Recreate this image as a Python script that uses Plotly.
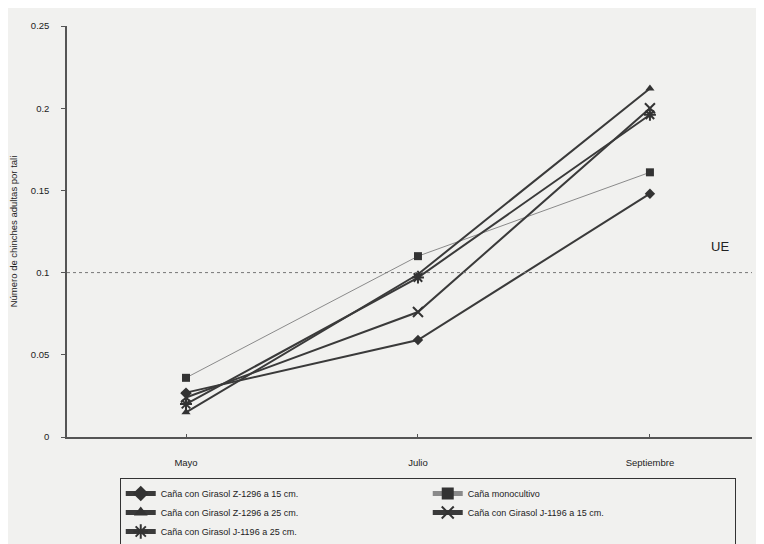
import plotly.graph_objects as go

months = ["Mayo", "Julio", "Septiembre"]
z1296_15 = [0.027, 0.059, 0.148]
monocultivo = [0.036, 0.110, 0.161]
z1296_25 = [0.015, 0.099, 0.212]
j1196_15 = [0.024, 0.076, 0.200]
j1196_25 = [0.020, 0.097, 0.196]
umbral_ue = 0.1

names = ["Caña con Girasol Z-1296 a 15 cm.", "Caña monocultivo",
         "Caña con Girasol Z-1296 a 25 cm.", "Caña con Girasol J-1196 a 15 cm.",
         "Caña con Girasol J-1196 a 25 cm."]
series = [z1296_15, monocultivo, z1296_25, j1196_15, j1196_25]
symbols = ["diamond", "square", "triangle-up", "x-thin", "asterisk"]
xpos = list(range(len(months)))

dark = "#3a3a3a"
fig = go.Figure()
for nm, vals, sym in zip(names, series, symbols):
    thin = nm == "Caña monocultivo"
    lw = 1 if thin else 2
    lc = "#8a8a8a" if thin else dark
    linesym = sym in ("x-thin", "asterisk")
    marker = dict(symbol=sym, size=10 if linesym else 8,
                  color="#333333", line=dict(color="#333333", width=2 if linesym else 0))
    fig.add_trace(go.Scatter(x=xpos, y=vals, mode="lines+markers", name=nm,
                             line=dict(color=lc, width=lw), marker=marker))

fig.add_shape(type="line", xref="paper", x0=0, x1=1, yref="y", y0=umbral_ue, y1=umbral_ue,
              line=dict(color="#777777", width=1, dash="dot"))
fig.add_annotation(x=2.3, y=umbral_ue, yshift=26, text="UE", showarrow=False,
                   font=dict(size=13, color="#222222", family="Liberation Sans, Arial"))

fig.update_layout(
    width=764, height=544,
    margin=dict(l=59, r=20, t=18, b=115, autoexpand=False),
    paper_bgcolor="#f1f1ef", plot_bgcolor="#f1f1ef",
    font=dict(family="Liberation Sans, Arial", size=9, color="#222222"),
    showlegend=True,
    legend=dict(orientation="h", x=0.077, y=0.136, xref="paper", yref="container",
                xanchor="left", yanchor="top",
                entrywidth=262, entrywidthmode="pixels",
                bordercolor="#333333", borderwidth=1, bgcolor="rgba(0,0,0,0)",
                font=dict(size=9), tracegroupgap=0, itemsizing="constant"),
)
fig.update_xaxes(range=[-0.513, 2.44], tickvals=xpos, ticktext=months,
                 showgrid=False, zeroline=False, showline=True, linecolor="#555555", linewidth=1.5,
                 ticks="inside", ticklen=3, tickcolor="#555555", ticklabelstandoff=16,
                 tickfont=dict(size=9.5, color="#222222"))
fig.update_yaxes(range=[0, 0.25], dtick=0.05, showgrid=False, zeroline=False,
                 showline=True, linecolor="#555555", linewidth=1.5,
                 ticks="outside", ticklen=4, tickcolor="#555555", ticklabelstandoff=10,
                 tickfont=dict(size=9.5, color="#222222"),
                 title=dict(text="Número de chinches adultas por tali", font=dict(size=9.5), standoff=14))

fig.write_html("out.html")
